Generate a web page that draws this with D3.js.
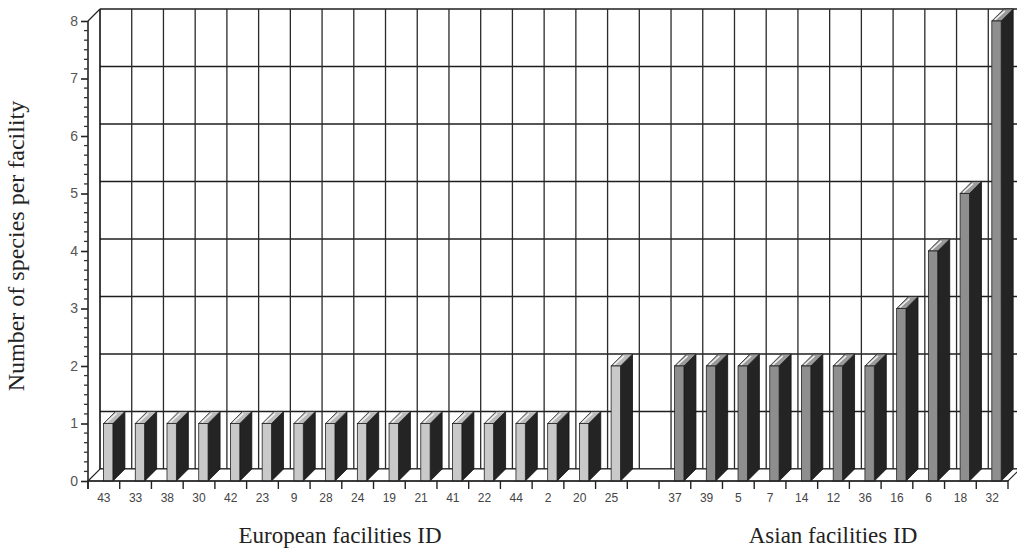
<!DOCTYPE html>
<html>
<head>
<meta charset="utf-8">
<script src="https://cdn.jsdelivr.net/npm/d3@7"></script>
<style>
  html, body { margin: 0; padding: 0; background: #fff; }
  svg { display: block; }
</style>
</head>
<body>
<svg id="chart" width="1017" height="549"></svg>
<script>
// Facility IDs and species counts per facility
const europeanIds = ["43","33","38","30","42","23","9","28","24","19","21","41","22","44","2","20","25"];
const europeanCounts = [1,1,1,1,1,1,1,1,1,1,1,1,1,1,1,1,2];
const asianIds = ["37","39","5","7","14","12","36","16","6","18","32"];
const asianCounts = [2,2,2,2,2,2,2,3,4,5,8];
const yTicks = [0,1,2,3,4,5,6,7,8];

const svg = d3.select("#chart");

// Layout of the pseudo-3D plot
const plotLeft = 88, plotRight = 1008, plotBottom = 481, plotTop = 21;
const dx = 12, dy = -12;           // depth offset towards the back wall

const slots = [...europeanIds, "__gap__", ...asianIds];
const x = d3.scaleBand().domain(slots).range([plotLeft, plotRight]).padding(0);
const y = d3.scaleLinear().domain([0, 8]).range([plotBottom, plotTop]);
const bw = x.bandwidth();

const bars = [
  ...europeanIds.map((id, i) => ({ id, value: europeanCounts[i], group: "eu" })),
  ...asianIds.map((id, i) => ({ id, value: asianCounts[i], group: "as" }))
];

const g = svg.append("g");

// Back wall
g.append("rect")
  .attr("x", plotLeft + dx).attr("y", y(8) + dy)
  .attr("width", plotRight - plotLeft).attr("height", y(0) - y(8))
  .attr("fill", "#fff");

// Horizontal gridlines on the back wall
g.selectAll("line.hgrid").data(yTicks).join("line")
  .attr("class", "hgrid")
  .attr("x1", plotLeft + dx).attr("x2", plotRight + dx)
  .attr("y1", d => y(d) + dy).attr("y2", d => y(d) + dy)
  .attr("stroke", "#1e1e1e").attr("stroke-width", 1.4);

// Vertical gridlines on the back wall at category boundaries
const bounds = slots.map(s => x(s)).concat([plotRight]);
g.selectAll("line.vgrid").data(bounds.slice(1)).join("line")
  .attr("class", "vgrid")
  .attr("x1", d => d + dx).attr("x2", d => d + dx)
  .attr("y1", y(0) + dy).attr("y2", y(8) + dy)
  .attr("stroke", "#2a2a2a").attr("stroke-width", 1.3);

// Left edge of the back wall
g.append("line")
  .attr("x1", plotLeft + dx).attr("x2", plotLeft + dx)
  .attr("y1", y(0) + dy).attr("y2", y(8) + dy)
  .attr("stroke", "#111").attr("stroke-width", 1.6);

// Side wall top edge
g.append("line")
  .attr("x1", plotLeft).attr("y1", y(8))
  .attr("x2", plotLeft + dx).attr("y2", y(8) + dy)
  .attr("stroke", "#222").attr("stroke-width", 1.3);

// Floor
const floorPts = [[plotLeft, y(0)], [plotRight, y(0)], [plotRight + dx, y(0) + dy], [plotLeft + dx, y(0) + dy]];
g.append("polygon")
  .attr("points", floorPts.map(p => p.join(",")).join(" "))
  .attr("fill", "#fff").attr("stroke", "#222").attr("stroke-width", 1.2);

// Bars
const frontColor = { eu: "#c9c9c9", as: "#8e8e8e" };
const topColor = { eu: "#bcbcbc", as: "#9a9a9a" };
const sideColor = "#242424";

const barG = g.selectAll("g.bar").data(bars).join("g").attr("class", "bar");
barG.each(function (d) {
  const sel = d3.select(this);
  const x0 = x(d.id) + bw * 0.49;
  const x1 = x(d.id) + bw * 0.785;
  const yt = y(d.value), yb = y(0);
  const poly = pts => pts.map(p => p.join(",")).join(" ");
  // side face
  sel.append("polygon")
    .attr("points", poly([[x1, yb], [x1 + dx, yb + dy], [x1 + dx, yt + dy], [x1, yt]]))
    .attr("fill", sideColor).attr("stroke", "#111").attr("stroke-width", 0.8);
  // top face
  sel.append("polygon")
    .attr("points", poly([[x0, yt], [x0 + dx, yt + dy], [x1 + dx, yt + dy], [x1, yt]]))
    .attr("fill", topColor[d.group]).attr("stroke", "#222").attr("stroke-width", 0.8);
  sel.append("line")
    .attr("x1", x0 + 3).attr("y1", yt - 1)
    .attr("x2", x0 + dx + 1).attr("y2", yt + dy + 2)
    .attr("stroke", "#f2f2f2").attr("stroke-width", 1.5);
  // front face
  sel.append("rect")
    .attr("x", x0).attr("y", yt)
    .attr("width", x1 - x0).attr("height", yb - yt)
    .attr("fill", frontColor[d.group]).attr("stroke", "#222").attr("stroke-width", 0.8);
});

// Y axis with major and minor ticks
const yAxis = d3.axisLeft(y).tickValues(yTicks).tickSize(7).tickPadding(3).tickFormat(d3.format("d"));
const yAx = svg.append("g").attr("transform", `translate(${plotLeft},0)`).call(yAxis);
yAx.select(".domain").attr("stroke", "#222").attr("stroke-width", 1.6)
  .attr("d", `M0,${plotBottom + 8}V${plotTop}`);
yAx.selectAll(".tick line").attr("stroke", "#222").attr("stroke-width", 1.6);
yAx.selectAll(".tick text")
  .attr("font-family", "Liberation Sans, Arial, sans-serif")
  .attr("font-size", 14).attr("fill", "#555");

const minor = [];
for (let v = 0; v < 8; v++) for (let k = 1; k < 6; k++) minor.push(v + k / 6);
svg.append("g").selectAll("line").data(minor).join("line")
  .attr("x1", plotLeft - 4).attr("x2", plotLeft)
  .attr("y1", d => y(d)).attr("y2", d => y(d))
  .attr("stroke", "#333").attr("stroke-width", 1.3);

// X axis: ticks at category boundaries, labels centred in each slot
const xAx = svg.append("g");
xAx.append("line")
  .attr("x1", plotLeft).attr("x2", plotRight)
  .attr("y1", plotBottom).attr("y2", plotBottom)
  .attr("stroke", "#222").attr("stroke-width", 1.6);
xAx.selectAll("line.xt").data(bounds).join("line")
  .attr("class", "xt")
  .attr("x1", d => d).attr("x2", d => d)
  .attr("y1", plotBottom).attr("y2", plotBottom + 8)
  .attr("stroke", "#222").attr("stroke-width", 1.4);
xAx.selectAll("text").data(slots.filter(s => s !== "__gap__")).join("text")
  .attr("x", d => x(d) + bw / 2)
  .attr("y", plotBottom + 21)
  .attr("text-anchor", "middle")
  .attr("font-family", "Liberation Sans, Arial, sans-serif")
  .attr("font-size", 12).attr("fill", "#444")
  .text(d => d);

// Axis titles
const serif = "Liberation Serif, Times New Roman, serif";
svg.append("text")
  .attr("transform", "translate(24,246) rotate(-90)")
  .attr("text-anchor", "middle")
  .attr("font-family", serif).attr("font-size", 24).attr("fill", "#222")
  .text("Number of species per facility");
svg.append("text")
  .attr("x", 340).attr("y", 543)
  .attr("text-anchor", "middle")
  .attr("font-family", serif).attr("font-size", 23).attr("fill", "#222")
  .text("European facilities ID");
svg.append("text")
  .attr("x", 833).attr("y", 543)
  .attr("text-anchor", "middle")
  .attr("font-family", serif).attr("font-size", 23).attr("fill", "#222")
  .text("Asian facilities ID");
</script>
</body>
</html>
